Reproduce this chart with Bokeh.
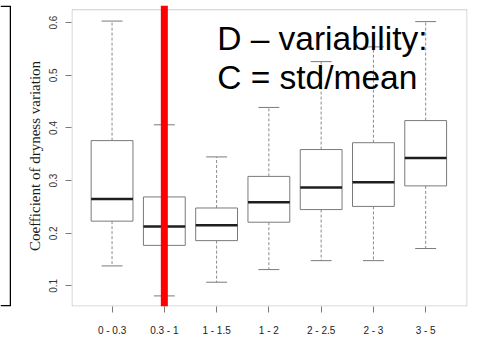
from bokeh.plotting import figure
from bokeh.layouts import row
from bokeh.models import Range1d, FixedTicker, Span, BoxAnnotation, Label, ColumnDataSource
from bokeh.embed import file_html
from bokeh.resources import INLINE

# ---- data ----
categories = ["0 - 0.3", "0.3 - 1", "1 - 1.5", "1 - 2", "2 - 2.5", "2 - 3", "3 - 5"]
lower_whisker = [0.138, 0.081, 0.107, 0.131, 0.148, 0.148, 0.171]
q1 = [0.223, 0.177, 0.186, 0.221, 0.245, 0.251, 0.290]
median = [0.265, 0.213, 0.215, 0.259, 0.287, 0.297, 0.343]
q3 = [0.376, 0.269, 0.248, 0.308, 0.359, 0.372, 0.414]
upper_whisker = [0.603, 0.406, 0.345, 0.439, 0.526, 0.554, 0.602]
y_ticks = [0.1, 0.2, 0.3, 0.4, 0.5, 0.6]
highlight_category = "0.3 - 1"
note_lines = ["D \u2013 variability:", "C = std/mean"]
y_label = "Coefficient of dryness variation"

positions = list(range(1, len(categories) + 1))
BOX_W = 0.8
CAP_W = 0.4
X_START, X_END = 0.224, 7.80
Y_START, Y_END = 0.0609, 0.6326
FRAME_TOP = 0.6245

W_TOTAL, H_TOTAL = 477, 338
W_SIDE = 11
BORDER_L, BORDER_R, BORDER_T, BORDER_B = 60, 10, 5, 30
frame_w = W_TOTAL - W_SIDE - BORDER_L - BORDER_R
frame_h = H_TOTAL - BORDER_T - BORDER_B
half_px_x = 0.5 * (X_END - X_START) / frame_w
half_px_y = 0.5 * (Y_END - Y_START) / frame_h

src = ColumnDataSource(dict(
    x=positions,
    lo=lower_whisker, q1=q1, med=median, q3=q3, hi=upper_whisker,
    xl=[c - BOX_W / 2 for c in positions], xr=[c + BOX_W / 2 for c in positions],
    cl=[c - CAP_W / 2 for c in positions], cr=[c + CAP_W / 2 for c in positions],
))

p = figure(width=W_TOTAL - W_SIDE, height=H_TOTAL, output_backend="svg", toolbar_location=None,
           x_range=Range1d(X_START, X_END), y_range=Range1d(Y_START, Y_END),
           min_border_left=BORDER_L, min_border_right=BORDER_R,
           min_border_top=BORDER_T, min_border_bottom=BORDER_B)
p.outline_line_color = None
p.grid.visible = False
p.background_fill_color = "white"
p.border_fill_color = "white"

GRAY = "#7a7a7a"
# whiskers (dashed)
p.segment(x0="x", y0="q3", x1="x", y1="hi", source=src, line_color="#8a8a8a", line_dash="3 2", line_width=1)
p.segment(x0="x", y0="q1", x1="x", y1="lo", source=src, line_color="#8a8a8a", line_dash="3 2", line_width=1)
# caps
p.segment(x0="cl", y0="hi", x1="cr", y1="hi", source=src, line_color=GRAY, line_width=1)
p.segment(x0="cl", y0="lo", x1="cr", y1="lo", source=src, line_color=GRAY, line_width=1)
# boxes
p.vbar(x="x", width=BOX_W, top="q3", bottom="q1", source=src, fill_color="white", line_color=GRAY, line_width=1)
# medians
p.segment(x0="xl", y0="med", x1="xr", y1="med", source=src, line_color="#1e1e1e", line_width=2.5)

# frame box (R's box())
p.add_layout(BoxAnnotation(left=X_START + half_px_x, right=X_END - half_px_x,
                           bottom=Y_START + half_px_y, top=FRAME_TOP,
                           fill_color=None, fill_alpha=0, line_color="#5a5a5a", line_width=1))

# red highlight line
p.add_layout(Span(location=positions[categories.index(highlight_category)], dimension="height",
                  line_color="#ff0000", line_width=7))

# note text
note_x = 3.01
p.add_layout(Label(x=note_x, y=0.5703, text=note_lines[0], text_font="Liberation Sans",
                   text_font_size="33.5px", text_color="black", text_baseline="alphabetic"))
p.add_layout(Label(x=note_x, y=0.4962, text=note_lines[1], text_font="Liberation Sans",
                   text_font_size="33.5px", text_color="black", text_baseline="alphabetic"))

# axes
xa = p.xaxis[0]
xa.ticker = FixedTicker(ticks=positions)
xa.major_label_overrides = {c: lab for c, lab in zip(positions, categories)}
xa.axis_line_color = None
xa.major_tick_line_color = GRAY
xa.major_tick_out = 6
xa.major_tick_in = 0
xa.minor_tick_line_color = None
xa.major_label_standoff = 12
xa.major_label_text_font = "Liberation Sans"
xa.major_label_text_font_size = "10px"
xa.major_label_text_color = "#222222"

ya = p.yaxis[0]
ya.ticker = FixedTicker(ticks=y_ticks)
ya.axis_line_color = None
ya.major_tick_line_color = GRAY
ya.major_tick_out = 6
ya.major_tick_in = 0
ya.minor_tick_line_color = None
ya.major_label_orientation = "vertical"
ya.major_label_standoff = 8
ya.major_label_text_font = "Liberation Sans"
ya.major_label_text_font_size = "10px"
ya.major_label_text_color = "#333333"
ya.axis_label = y_label
ya.axis_label_text_font = "Liberation Serif"
ya.axis_label_text_font_style = "normal"
ya.axis_label_text_font_size = "15px"
ya.axis_label_text_color = "#1a1a1a"
ya.axis_label_standoff = 4

# cropped edge of a neighbouring panel on the far left (canvas-pixel decoration)
side = figure(width=W_SIDE, height=H_TOTAL, output_backend="svg", toolbar_location=None,
              x_range=Range1d(0, W_SIDE), y_range=Range1d(H_TOTAL - BORDER_B, BORDER_T),
              min_border_left=0, min_border_right=0,
              min_border_top=BORDER_T, min_border_bottom=BORDER_B)
side.axis.visible = False
side.grid.visible = False
side.outline_line_color = None
side.background_fill_color = "white"
side.border_fill_color = "white"
side.line(x=[0, 10, 10, 0], y=[5.75, 5.75, 307.25, 307.25], line_color="black", line_width=1.5)

layout = row(side, p, spacing=0)
open("out.html", "w").write(file_html(layout, INLINE))
